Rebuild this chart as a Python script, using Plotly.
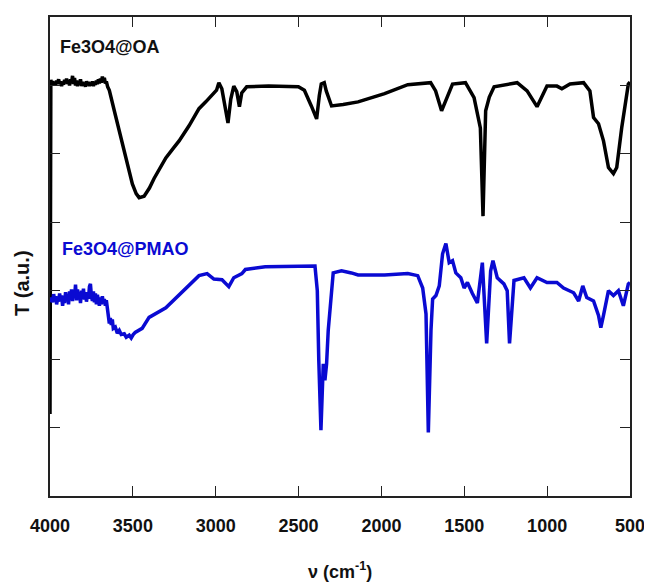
import plotly.graph_objects as go

# Fe3O4@OA spectrum (wavenumber cm-1, transmission a.u.)
oa_wn = [4000, 4000, 3995, 3990, 3984, 3978, 3972, 3966, 3960, 3954, 3948, 3942, 3936, 3930, 3924, 3918,
         3912, 3906, 3900, 3894, 3888, 3882, 3876, 3870, 3864, 3858, 3852, 3846, 3840, 3834, 3828, 3822,
         3816, 3810, 3804, 3798, 3792, 3786, 3780, 3774, 3768, 3762, 3756, 3750, 3744, 3738, 3732, 3726,
         3720, 3714, 3708, 3702, 3696, 3690, 3684, 3678, 3672, 3666, 3660, 3652,
         3642, 3612, 3580, 3552, 3525, 3503, 3480, 3462, 3432, 3400, 3372, 3335, 3301, 3260, 3221, 3161,
         3101, 3060, 3023, 2995, 2981, 2963, 2926, 2909,
         2891, 2873, 2857, 2843, 2813, 2681, 2501, 2465, 2423, 2391, 2375, 2363, 2345, 2333, 2301, 2231,
         2141, 1981, 1841, 1703, 1673, 1637, 1613, 1571, 1493, 1441, 1403, 1387, 1371, 1349, 1320, 1181,
         1121, 1061, 1001, 941, 911, 862, 780, 742, 720, 690, 660, 630, 600, 580, 550, 510, 500]
oa_t = [1.20, 6.04, 6.08, 6.02, 6.06, 6.01, 6.05, 6.00, 6.07, 6.03, 6.09, 6.02, 6.06, 5.99, 6.05, 6.01,
        6.08, 6.03, 6.10, 6.02, 6.07, 6.00, 6.09, 6.04, 6.14, 6.02, 6.11, 6.00, 6.07, 5.99, 6.06, 6.02,
        6.09, 5.99, 6.05, 6.00, 6.04, 5.98, 6.06, 6.01, 6.05, 5.99, 6.04, 6.00, 6.06, 5.99, 6.05, 6.01,
        6.07, 6.02, 6.09, 6.03, 6.10, 6.04, 6.13, 6.05, 6.11, 6.03, 6.06, 5.98,
        5.93, 5.63, 5.30, 5.04, 4.78, 4.56, 4.42, 4.36, 4.38, 4.50, 4.64, 4.80, 4.94, 5.07, 5.19, 5.41,
        5.66, 5.76, 5.85, 5.93, 6.04, 5.95, 5.45, 5.80,
        5.99, 5.91, 5.69, 5.89, 5.98, 5.99, 5.98, 5.93, 5.70, 5.51, 5.85, 6.02, 6.04, 5.92, 5.70, 5.72,
        5.76, 5.88, 6.01, 6.04, 5.92, 5.63, 5.77, 6.02, 6.04, 5.82, 5.38, 4.09, 5.63, 5.83, 5.98, 6.04,
        5.92, 5.69, 5.99, 5.99, 5.95, 6.02, 6.04, 5.92, 5.53, 5.44, 5.19, 4.80, 4.71, 4.80, 5.38, 6.02, 6.05]

# Fe3O4@PMAO spectrum
pmao_wn = [4000, 3995, 3990, 3984, 3978, 3972, 3966, 3960, 3954, 3948, 3942, 3936, 3930, 3924, 3918, 3912,
           3906, 3900, 3894, 3888, 3882, 3876, 3870, 3864, 3858, 3852, 3846, 3840, 3834, 3828, 3822, 3816,
           3810, 3804, 3798, 3792, 3786, 3780, 3774, 3768, 3762, 3756, 3750, 3744, 3738, 3732, 3726, 3720,
           3714, 3708, 3702, 3696, 3690, 3684, 3678, 3672, 3666, 3660, 3652, 3642, 3636, 3630, 3624, 3618,
           3606, 3594, 3582, 3570, 3552, 3540, 3522, 3510, 3498, 3486, 3444, 3402, 3301, 3181, 3101, 3052,
           3011, 2962, 2933, 2921, 2891, 2842, 2821, 2701, 2401, 2387, 2378, 2365, 2351, 2341, 2331, 2321,
           2291, 2241, 2181, 2141, 1981, 1841, 1781, 1751, 1731, 1717, 1701, 1691, 1671, 1651, 1631, 1611,
           1591, 1571, 1551, 1521, 1501, 1481, 1451, 1421, 1391, 1365, 1341, 1327, 1301, 1261, 1241, 1227,
           1200, 1140, 1101, 1061, 1001, 941, 901, 840, 810, 785, 761, 720, 690, 676, 660, 630, 600, 570,
           540, 510, 500]
pmao_t = [2.88, 2.84, 2.90, 2.83, 2.95, 2.86, 2.92, 2.80, 2.89, 2.84, 2.96, 2.86, 2.93, 2.78, 2.90, 2.82,
          2.98, 2.85, 2.95, 2.80, 2.99, 2.88, 3.02, 2.85, 3.00, 2.90, 3.09, 2.86, 3.02, 2.88, 2.96, 2.82,
          3.00, 2.90, 3.03, 2.87, 2.98, 2.84, 2.94, 2.88, 3.06, 3.10, 2.92, 2.85, 2.99, 2.83, 2.96, 2.80,
          2.94, 2.84, 2.78, 2.90, 2.80, 2.92, 2.82, 2.88, 2.78, 2.86, 2.70, 2.52, 2.60, 2.50, 2.58, 2.45,
          2.47, 2.38, 2.42, 2.36, 2.37, 2.32, 2.35, 2.31, 2.36, 2.39, 2.45, 2.61, 2.75, 3.03, 3.22, 3.25,
          3.17, 3.16, 3.10, 3.06, 3.19, 3.25, 3.31, 3.35, 3.36, 3.00, 1.98, 0.96, 1.93, 1.69, 1.93, 2.42,
          3.26, 3.29, 3.26, 3.23, 3.23, 3.25, 3.22, 3.04, 2.66, 0.93, 2.42, 2.88, 2.93, 3.07, 3.54, 3.69,
          3.41, 3.44, 3.26, 3.19, 3.04, 3.12, 2.96, 2.82, 3.41, 2.23, 3.29, 3.44, 3.19, 3.10, 3.00, 2.23,
          3.15, 3.19, 3.04, 3.19, 3.12, 3.12, 3.04, 2.97, 2.85, 3.07, 2.90, 2.85, 2.64, 2.46, 2.64, 3.00, 2.93,
          3.00, 2.78, 3.10, 3.12]

x_ticks = [4000, 3500, 3000, 2500, 2000, 1500, 1000, 500]
y_ticks = [1, 2, 3, 4, 5, 6]

FONT = "Liberation Sans, Arial, sans-serif"
BLUE = "#0a0ad2"

fig = go.Figure()
fig.add_trace(go.Scatter(x=oa_wn, y=oa_t, mode="lines",
                         line=dict(color="black", width=3.5), showlegend=False))
fig.add_trace(go.Scatter(x=pmao_wn, y=pmao_t, mode="lines",
                         line=dict(color=BLUE, width=3.5), showlegend=False))

axis_common = dict(showline=True, linecolor="#222", linewidth=1.6, mirror="allticks",
                   ticks="inside", ticklen=10, tickwidth=1.4, tickcolor="#222",
                   showgrid=False, zeroline=False)

fig.update_xaxes(range=[4000, 500], tickvals=x_ticks, ticktext=[str(v) for v in x_ticks],
                 tickfont=dict(family=FONT, size=18, color="#111", weight="bold"),
                 ticklabelstandoff=13, **axis_common)
fig.update_yaxes(range=[0, 7], tickvals=y_ticks, showticklabels=False, **axis_common)

fig.add_annotation(text="Fe3O4@OA", x=0.0137, y=0.937, xref="paper", yref="paper",
                   xanchor="left", yanchor="middle", showarrow=False,
                   font=dict(family=FONT, size=18, color="#111", weight="bold"))
fig.add_annotation(text="Fe3O4@PMAO", x=0.0172, y=0.515, xref="paper", yref="paper",
                   xanchor="left", yanchor="middle", showarrow=False,
                   font=dict(family=FONT, size=18, color=BLUE, weight="bold"))
fig.add_annotation(text="T (a.u.)", x=-0.048, y=0.445, xref="paper", yref="paper",
                   xanchor="center", yanchor="middle", showarrow=False, textangle=-90,
                   font=dict(family=FONT, size=20, color="#111", weight="bold"))
fig.add_annotation(text="ν (cm<sup>-1</sup>)", x=0.5, y=-0.155, xref="paper", yref="paper",
                   xanchor="center", yanchor="middle", showarrow=False,
                   font=dict(family=FONT, size=18, color="#111", weight="bold"))

# page body has an 8px margin, so the figure is shrunk to keep the plot area in place
fig.update_layout(width=644, height=576, margin=dict(l=42, r=19, t=7, b=88),
                  plot_bgcolor="white", paper_bgcolor="white")

fig.write_html("out.html")
